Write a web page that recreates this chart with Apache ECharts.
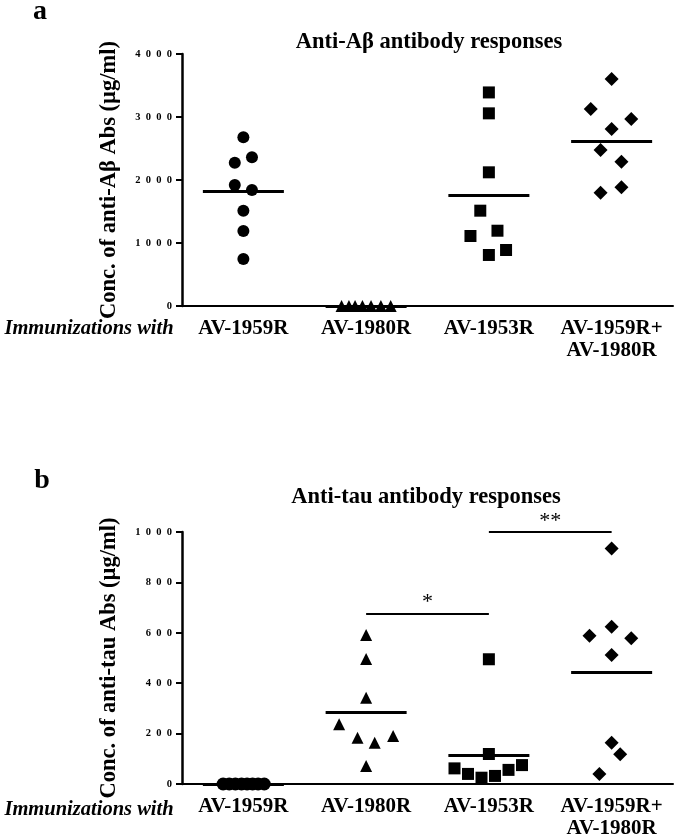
<!DOCTYPE html>
<html>
<head>
<meta charset="utf-8">
<script src="https://cdn.jsdelivr.net/npm/echarts@6/dist/echarts.min.js"></script>
<style>
html,body{margin:0;padding:0;background:#fff;}
#chart{width:675px;height:840px;}
</style>
</head>
<body>
<div id="chart"></div>
<script>
// ---------- data ----------
const categories = ['AV-1959R', 'AV-1980R', 'AV-1953R', 'AV-1959R+\nAV-1980R'];
const yTicksA = [0, 1000, 2000, 3000, 4000];
const yTicksB = [0, 200, 400, 600, 800, 1000];

// Panel a: anti-Abeta antibody concentrations (µg/ml)
const aAV1959R = [2678, 2275, 2360, 1920, 1841, 1513, 1190, 746];
const aAV1959RJitter = [0, -0.07, 0.07, -0.07, 0.07, 0, 0, 0];
const aAV1980R = [0, 0, 0, 0, 0, 0, 0];
const aAV1980RJitter = [-0.2, -0.14, -0.09, -0.03, 0.04, 0.12, 0.2];
const aAV1953R = [3390, 3058, 2122, 1513, 1195, 1111, 889, 810];
const aAV1953RJitter = [0, 0, 0, -0.07, 0.07, -0.15, 0.14, 0];
const aCombo = [3603, 3127, 2968, 2810, 2476, 2291, 1884, 1799];
const aComboJitter = [0, -0.17, 0.16, 0, -0.09, 0.08, 0.08, -0.09];

// Panel b: anti-tau antibody concentrations (µg/ml)
const bAV1959R = [0, 0, 0, 0, 0, 0, 0, 0];
const bAV1959RJitter = [-0.165, -0.115, -0.065, -0.015, 0.03, 0.075, 0.12, 0.17];
const bAV1980R = [591, 496, 342, 237, 184, 164, 190, 71];
const bAV1980RJitter = [0, 0, 0, -0.22, -0.07, 0.07, 0.22, 0];
const bAV1953R = [495, 119, 62, 40, 25, 32, 56, 75];
const bAV1953RJitter = [0, 0, -0.28, -0.17, -0.06, 0.05, 0.16, 0.27];
const bCombo = [935, 624, 588, 578, 512, 164, 118, 40];
const bComboJitter = [0, 0, -0.18, 0.16, 0, 0, 0.07, -0.1];

// significance brackets (from group, to group, height, label)
const sigBrackets = [[1, 2, 677, '*'], [2, 3, 1000, '**']];

// ---------- build ----------
const FONT = 'Liberation Serif';
const mean = a => a.reduce((s, v) => s + v, 0) / a.length;

function groupSeries(vals, jit, idx, symbol, size, xi, yi, extraMark) {
  const m = mean(vals);
  const md = [[{coord: [idx - 0.33, m]}, {coord: [idx + 0.33, m]}]];
  if (extraMark) extraMark.forEach(e => md.push(e));
  return {
    type: 'scatter',
    xAxisIndex: xi, yAxisIndex: yi,
    symbol: symbol, symbolSize: size,
    itemStyle: {color: '#000', opacity: 1},
    clip: false,
    silent: true,
    data: vals.map((v, i) => [idx + jit[i], v]),
    markLine: {
      silent: true,
      symbol: ['none', 'none'],
      lineStyle: {color: '#000', width: 3, type: 'solid', opacity: 1},
      label: {show: false},
      emphasis: {disabled: true},
      data: md
    },
    z: 3
  };
}

const spaced = v => String(v).split('').join('\u2002');

function yAxisDef(gi, max, interval, name) {
  return {
    type: 'value', gridIndex: gi, min: 0, max: max, interval: interval,
    splitLine: {show: false},
    axisLine: {show: true, onZero: false, lineStyle: {color: '#000', width: 2.5}},
    axisTick: {show: true, length: 6, lineStyle: {color: '#000', width: 2}},
    axisLabel: {color: '#000', fontFamily: FONT, fontWeight: 'bold', fontSize: 10.5, margin: 10, formatter: spaced},
    name: name, nameLocation: 'middle', nameGap: 61,
    nameTextStyle: {color: '#000', fontFamily: FONT, fontWeight: 'bold', fontSize: 22.5}
  };
}
function xCatDef(gi) {
  return {
    type: 'category', gridIndex: gi, data: categories,
    axisLine: {onZero: false, lineStyle: {color: '#000', width: 2}},
    axisTick: {show: false},
    axisLabel: {color: '#000', fontFamily: FONT, fontWeight: 'bold', fontSize: 21, margin: 12, lineHeight: 22, interval: 0}
  };
}
function xValDef(gi) {
  return {type: 'value', gridIndex: gi, min: -0.5, max: 3.5, show: false, axisLine: {onZero: false}};
}

const sigMarks = sigBrackets.map(b => [
  {coord: [b[0], b[2]], lineStyle: {width: 2}, label: {show: true, formatter: b[3], position: 'middle', distance: 0, color: '#000', fontFamily: FONT, fontSize: 22}},
  {coord: [b[1], b[2]]}
]);

const txt = (x, y, s, size, style) => ({
  type: 'text', x: x, y: y,
  style: {text: s, fill: '#000', font: (style || 'bold') + ' ' + size + 'px "' + FONT + '"', textAlign: 'center', textVerticalAlign: 'middle'}
});

const option = {
  animation: false,
  backgroundColor: '#fff',
  grid: [
    {left: 182, right: 2, top: 54, bottom: 534},
    {left: 182, right: 2, top: 532, bottom: 56}
  ],
  xAxis: [xCatDef(0), xValDef(0), xCatDef(1), xValDef(1)],
  yAxis: [
    yAxisDef(0, yTicksA[yTicksA.length - 1], yTicksA[1] - yTicksA[0], 'Conc. of anti-A\u03b2 Abs (\u00b5g/ml)'),
    yAxisDef(1, yTicksB[yTicksB.length - 1], yTicksB[1] - yTicksB[0], 'Conc. of anti-tau Abs (\u00b5g/ml)')
  ],
  series: [
    groupSeries(aAV1959R, aAV1959RJitter, 0, 'circle', 12, 1, 0),
    groupSeries(aAV1980R, aAV1980RJitter, 1, 'triangle', 12, 1, 0),
    groupSeries(aAV1953R, aAV1953RJitter, 2, 'rect', 12, 1, 0),
    groupSeries(aCombo, aComboJitter, 3, 'diamond', 14, 1, 0),
    groupSeries(bAV1959R, bAV1959RJitter, 0, 'circle', 13, 3, 1),
    groupSeries(bAV1980R, bAV1980RJitter, 1, 'triangle', 12, 3, 1, sigMarks),
    groupSeries(bAV1953R, bAV1953RJitter, 2, 'rect', 12, 3, 1),
    groupSeries(bCombo, bComboJitter, 3, 'diamond', 14, 3, 1)
  ],
  graphic: [
    txt(40, 12, 'a', 28),
    txt(429, 42, 'Anti-A\u03b2 antibody responses', 22.5),
    txt(89, 329, 'Immunizations with', 20.5, 'italic bold'),
    txt(42, 481, 'b', 28),
    txt(426, 497, 'Anti-tau antibody responses', 22.5),
    txt(89, 810, 'Immunizations with', 20.5, 'italic bold')
  ]
};

const chart = echarts.init(document.getElementById('chart'), null, {renderer: 'canvas'});
chart.setOption(option);
</script>
</body>
</html>
